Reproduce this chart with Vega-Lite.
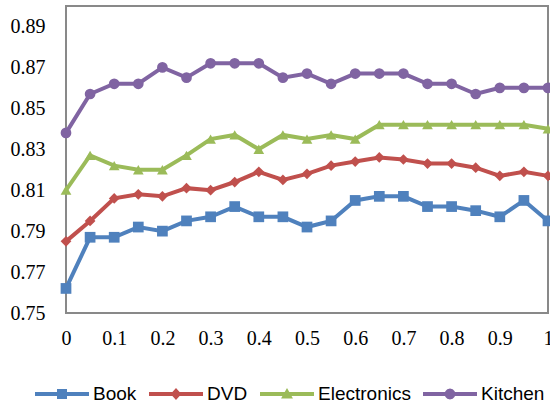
{
  "$schema": "https://vega.github.io/schema/vega-lite/v6.json",
  "width": 482,
  "height": 307,
  "autosize": {"type": "none"},
  "padding": {"left": 66, "top": 6, "right": 2, "bottom": 90},
  "background": "white",
  "config": {
    "view": {"stroke": "#898989", "strokeWidth": 2},
    "axis": {"labelFont": "Liberation Serif", "labelFontSize": 20, "labelColor": "#000000", "domain": false, "ticks": false, "grid": false, "title": null},
    "legend": {"orient": "none", "legendX": -31, "legendY": 361, "direction": "horizontal", "title": null,
      "symbolSize": 2916, "symbolStrokeWidth": 0, "symbolOpacity": 1, "labelOffset": 4, "columnPadding": 12,
      "labelFont": "Liberation Sans", "labelFontSize": 19, "labelColor": "#000000"}
  },
  "data": {"values": [
    {"x":0,"s":"Book","v":0.762},{"x":0.05,"s":"Book","v":0.787},{"x":0.1,"s":"Book","v":0.787},{"x":0.15,"s":"Book","v":0.792},{"x":0.2,"s":"Book","v":0.790},{"x":0.25,"s":"Book","v":0.795},{"x":0.3,"s":"Book","v":0.797},{"x":0.35,"s":"Book","v":0.802},{"x":0.4,"s":"Book","v":0.797},{"x":0.45,"s":"Book","v":0.797},{"x":0.5,"s":"Book","v":0.792},{"x":0.55,"s":"Book","v":0.795},{"x":0.6,"s":"Book","v":0.805},{"x":0.65,"s":"Book","v":0.807},{"x":0.7,"s":"Book","v":0.807},{"x":0.75,"s":"Book","v":0.802},{"x":0.8,"s":"Book","v":0.802},{"x":0.85,"s":"Book","v":0.800},{"x":0.9,"s":"Book","v":0.797},{"x":0.95,"s":"Book","v":0.805},{"x":1,"s":"Book","v":0.795},
    {"x":0,"s":"DVD","v":0.785},{"x":0.05,"s":"DVD","v":0.795},{"x":0.1,"s":"DVD","v":0.806},{"x":0.15,"s":"DVD","v":0.808},{"x":0.2,"s":"DVD","v":0.807},{"x":0.25,"s":"DVD","v":0.811},{"x":0.3,"s":"DVD","v":0.810},{"x":0.35,"s":"DVD","v":0.814},{"x":0.4,"s":"DVD","v":0.819},{"x":0.45,"s":"DVD","v":0.815},{"x":0.5,"s":"DVD","v":0.818},{"x":0.55,"s":"DVD","v":0.822},{"x":0.6,"s":"DVD","v":0.824},{"x":0.65,"s":"DVD","v":0.826},{"x":0.7,"s":"DVD","v":0.825},{"x":0.75,"s":"DVD","v":0.823},{"x":0.8,"s":"DVD","v":0.823},{"x":0.85,"s":"DVD","v":0.821},{"x":0.9,"s":"DVD","v":0.817},{"x":0.95,"s":"DVD","v":0.819},{"x":1,"s":"DVD","v":0.817},
    {"x":0,"s":"Electronics","v":0.810},{"x":0.05,"s":"Electronics","v":0.827},{"x":0.1,"s":"Electronics","v":0.822},{"x":0.15,"s":"Electronics","v":0.820},{"x":0.2,"s":"Electronics","v":0.820},{"x":0.25,"s":"Electronics","v":0.827},{"x":0.3,"s":"Electronics","v":0.835},{"x":0.35,"s":"Electronics","v":0.837},{"x":0.4,"s":"Electronics","v":0.830},{"x":0.45,"s":"Electronics","v":0.837},{"x":0.5,"s":"Electronics","v":0.835},{"x":0.55,"s":"Electronics","v":0.837},{"x":0.6,"s":"Electronics","v":0.835},{"x":0.65,"s":"Electronics","v":0.842},{"x":0.7,"s":"Electronics","v":0.842},{"x":0.75,"s":"Electronics","v":0.842},{"x":0.8,"s":"Electronics","v":0.842},{"x":0.85,"s":"Electronics","v":0.842},{"x":0.9,"s":"Electronics","v":0.842},{"x":0.95,"s":"Electronics","v":0.842},{"x":1,"s":"Electronics","v":0.840},
    {"x":0,"s":"Kitchen","v":0.838},{"x":0.05,"s":"Kitchen","v":0.857},{"x":0.1,"s":"Kitchen","v":0.862},{"x":0.15,"s":"Kitchen","v":0.862},{"x":0.2,"s":"Kitchen","v":0.870},{"x":0.25,"s":"Kitchen","v":0.865},{"x":0.3,"s":"Kitchen","v":0.872},{"x":0.35,"s":"Kitchen","v":0.872},{"x":0.4,"s":"Kitchen","v":0.872},{"x":0.45,"s":"Kitchen","v":0.865},{"x":0.5,"s":"Kitchen","v":0.867},{"x":0.55,"s":"Kitchen","v":0.862},{"x":0.6,"s":"Kitchen","v":0.867},{"x":0.65,"s":"Kitchen","v":0.867},{"x":0.7,"s":"Kitchen","v":0.867},{"x":0.75,"s":"Kitchen","v":0.862},{"x":0.8,"s":"Kitchen","v":0.862},{"x":0.85,"s":"Kitchen","v":0.857},{"x":0.9,"s":"Kitchen","v":0.860},{"x":0.95,"s":"Kitchen","v":0.860},{"x":1,"s":"Kitchen","v":0.860}
  ]},
  "encoding": {
    "x": {"field": "x", "type": "quantitative", "scale": {"domain": [0, 1], "nice": false, "zero": false},
          "axis": {"values": [0, 0.1, 0.2, 0.3, 0.4, 0.5, 0.6, 0.7, 0.8, 0.9, 1], "format": "~g", "labelPadding": 15, "labelFlush": false}},
    "y": {"field": "v", "type": "quantitative", "scale": {"domain": [0.75, 0.9], "nice": false, "zero": false},
          "axis": {"values": [0.75, 0.77, 0.79, 0.81, 0.83, 0.85, 0.87, 0.89], "format": ".2f", "labelPadding": 21}},
    "color": {"field": "s", "type": "nominal",
      "scale": {"domain": ["Book", "DVD", "Electronics", "Kitchen"], "range": ["#4F81BD", "#C0504D", "#9BBB59", "#8064A2"]}}
  },
  "layer": [
    {"mark": {"type": "line", "strokeWidth": 4}},
    {"mark": {"type": "point", "filled": true, "opacity": 1, "size": 115},
     "encoding": {"shape": {"condition": [
        {"test": "datum.s === 'Book'", "value": "square"},
        {"test": "datum.s === 'DVD'", "value": "diamond"},
        {"test": "datum.s === 'Electronics'", "value": "triangle-up"}
      ], "value": "circle"}}},
    {"mark": {"type": "point", "filled": true, "opacity": 0, "size": 0},
     "encoding": {"shape": {"field": "s", "type": "nominal",
       "scale": {"domain": ["Book", "DVD", "Electronics", "Kitchen"], "range": [
         "M-1,-0.075L1,-0.075L1,0.075L-1,0.075Z M-0.185,-0.185L0.185,-0.185L0.185,0.185L-0.185,0.185Z",
         "M-1,-0.075L1,-0.075L1,0.075L-1,0.075Z M0,-0.22L0.2,0L0,0.22L-0.2,0Z",
         "M-1,-0.075L1,-0.075L1,0.075L-1,0.075Z M0,-0.22L0.22,0.17L-0.22,0.17Z",
         "M-1,-0.075L1,-0.075L1,0.075L-1,0.075Z M0.2,0L0.173,0.1L0.1,0.173L0,0.2L-0.1,0.173L-0.173,0.1L-0.2,0L-0.173,-0.1L-0.1,-0.173L0,-0.2L0.1,-0.173L0.173,-0.1Z"
       ]}}}}
  ]
}
